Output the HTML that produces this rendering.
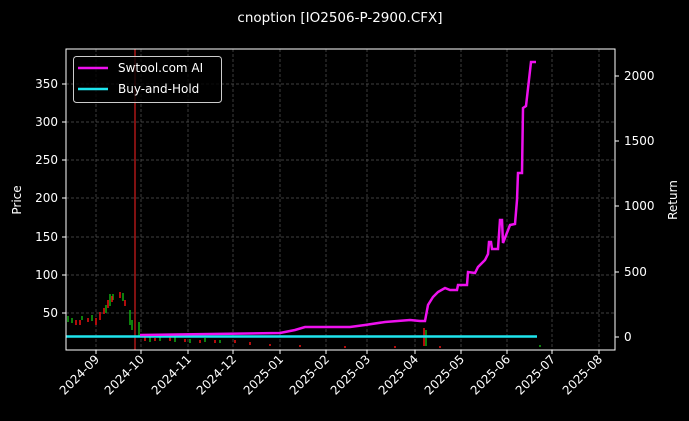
<!DOCTYPE html>
<html><head><style>body{margin:0;background:#000;}svg{display:block;font-family:"DejaVu Sans","Liberation Sans",sans-serif;}</style></head>
<body>
<svg width="689" height="421" xmlns="http://www.w3.org/2000/svg">
<rect width="689" height="421" fill="#000"/>
<text x="340" y="22" fill="#fff" font-size="13.5" text-anchor="middle">cnoption [IO2506-P-2900.CFX]</text>
<g stroke="#555" stroke-width="0.7" stroke-dasharray="3,2">
<line x1="96" y1="49" x2="96" y2="350"/><line x1="141" y1="49" x2="141" y2="350"/><line x1="188" y1="49" x2="188" y2="350"/><line x1="233" y1="49" x2="233" y2="350"/><line x1="280" y1="49" x2="280" y2="350"/><line x1="326" y1="49" x2="326" y2="350"/><line x1="367" y1="49" x2="367" y2="350"/><line x1="415" y1="49" x2="415" y2="350"/><line x1="461" y1="49" x2="461" y2="350"/><line x1="507" y1="49" x2="507" y2="350"/><line x1="552" y1="49" x2="552" y2="350"/><line x1="599" y1="49" x2="599" y2="350"/>
<line x1="66" y1="84" x2="615" y2="84"/><line x1="66" y1="122" x2="615" y2="122"/><line x1="66" y1="160" x2="615" y2="160"/><line x1="66" y1="198" x2="615" y2="198"/><line x1="66" y1="237" x2="615" y2="237"/><line x1="66" y1="275" x2="615" y2="275"/><line x1="66" y1="313" x2="615" y2="313"/>
</g>
<g stroke-width="1.5">
<line x1="135" y1="49" x2="135" y2="350" stroke="#f22" stroke-width="1"/>
<path d="M68 316v6M72 318v5M82 316v4M92 315v6M106 305v8M110 294v12M113 294v6M123 293v8M130 310v15M132 320v10" stroke="#1a1"/>
<path d="M76 320v5M80 320v5M88 318v4M96 318v7M100 312v8M104 308v6M108 300v8M112 296v6M120 292v6M125 300v6" stroke="#e11"/>
<path d="M139 322v14M150 336v6M160 337v4M175 337v5M190 339v4M205 338v4M220 340v3M426 330v16M540 345v2" stroke="#1a1"/>
<path d="M145 337v4M155 338v3M170 337v4M185 339v3M200 340v3M215 340v3M235 340v3M250 342v3M270 344v2M300 345v2M424 328v18M345 346v2M395 346v2M440 346v2" stroke="#e11"/>
</g>
<line x1="66" y1="336.5" x2="537" y2="336.5" stroke="#1ee5ee" stroke-width="2.5"/>
<polyline fill="none" stroke="#ee11ee" stroke-width="2.5" points="140,335 280,333 295,330 305,327 350,327 365,325 385,322 410,320 420,321 425,321 428,305 433,297 438,292 445,288 450,290 457,290 458,285 467,285 468,272 475,273 478,267 485,260 488,254 489,242 491,242 492,249 498,249 500,220 502,220 503,243 510,225 515,224 517,200 518,173 522,173 523,108 526,106 531,62 536,62"/>
<rect x="66" y="49" width="549" height="301" fill="none" stroke="#fff" stroke-width="1"/>
<g fill="#fff" font-size="12" text-anchor="end">
<text x="58" y="88">350</text><text x="58" y="126">300</text><text x="58" y="164">250</text><text x="58" y="202">200</text><text x="58" y="241">150</text><text x="58" y="279">100</text><text x="58" y="317">50</text>
</g>
<g stroke="#fff"><path d="M62 84h4M62 122h4M62 160h4M62 198h4M62 237h4M62 275h4M62 313h4M615 76h4M615 141h4M615 206h4M615 272h4M615 337h4M96 350v4M141 350v4M188 350v4M233 350v4M280 350v4M326 350v4M367 350v4M415 350v4M461 350v4M507 350v4M552 350v4M599 350v4"/></g>
<g fill="#fff" font-size="12">
<text x="624" y="80">2000</text><text x="624" y="145">1500</text><text x="624" y="210">1000</text><text x="624" y="276">500</text><text x="624" y="341">0</text>
</g>
<text transform="translate(21,200) rotate(-90)" fill="#fff" font-size="12" text-anchor="middle">Price</text>
<text transform="translate(677,200) rotate(-90)" fill="#fff" font-size="12" text-anchor="middle">Return</text>
<g fill="#fff" font-size="12" text-anchor="end">
<text transform="translate(100,360) rotate(-45)">2024-09</text>
<text transform="translate(145,360) rotate(-45)">2024-10</text>
<text transform="translate(192,360) rotate(-45)">2024-11</text>
<text transform="translate(237,360) rotate(-45)">2024-12</text>
<text transform="translate(284,360) rotate(-45)">2025-01</text>
<text transform="translate(330,360) rotate(-45)">2025-02</text>
<text transform="translate(371,360) rotate(-45)">2025-03</text>
<text transform="translate(419,360) rotate(-45)">2025-04</text>
<text transform="translate(465,360) rotate(-45)">2025-05</text>
<text transform="translate(511,360) rotate(-45)">2025-06</text>
<text transform="translate(556,360) rotate(-45)">2025-07</text>
<text transform="translate(603,360) rotate(-45)">2025-08</text>
</g>
<rect x="73.5" y="56.5" width="148" height="46" rx="3" fill="#000" fill-opacity="0.8" stroke="#ccc" stroke-width="1"/>
<line x1="78" y1="68" x2="108" y2="68" stroke="#ee11ee" stroke-width="2.5"/>
<line x1="78" y1="89" x2="108" y2="89" stroke="#1ee5ee" stroke-width="2.5"/>
<g fill="#fff" font-size="12"><text x="118" y="72">Swtool.com AI</text><text x="118" y="93">Buy-and-Hold</text></g>
</svg>
</body></html>
